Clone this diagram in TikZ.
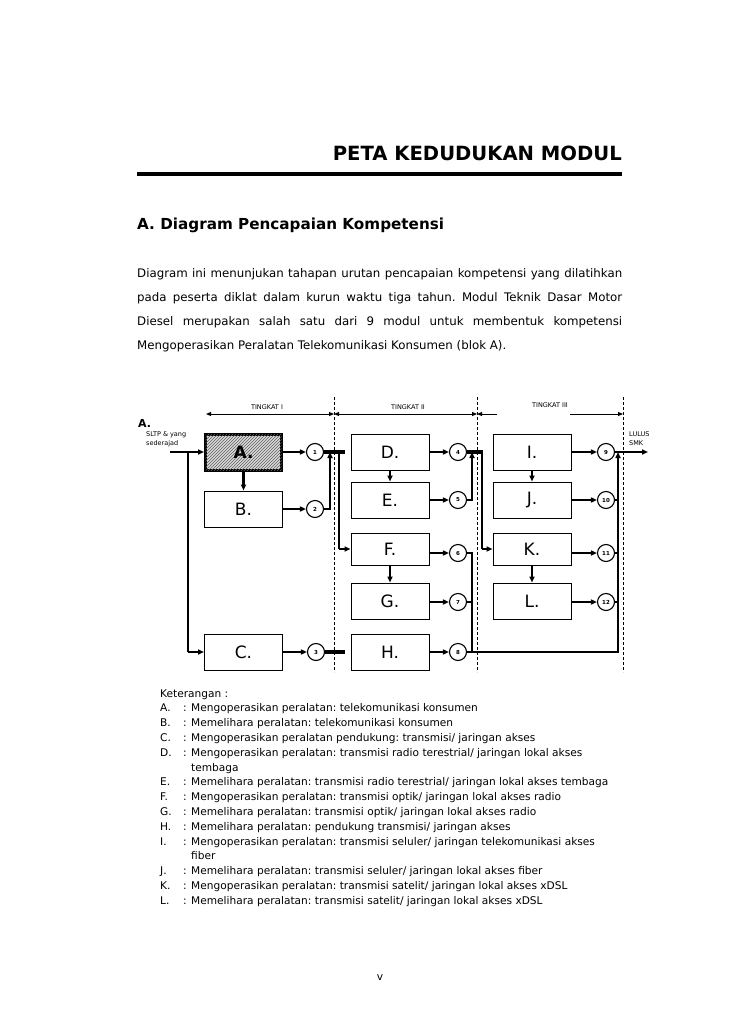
\documentclass[tikz,border=0pt]{standalone}
\usepackage{fontspec}
\setmainfont{DejaVu Sans}
\usetikzlibrary{arrows.meta,patterns}
\frenchspacing
\begin{document}
\begin{tikzpicture}[x=1pt,y=-1pt,
  box/.style={draw, line width=1pt, minimum width=78pt, minimum height=36pt, inner sep=0pt, font=\fontsize{17}{17}\selectfont},
  num/.style={draw, circle, line width=1.1pt, minimum size=17pt, inner sep=0pt, font=\fontsize{5.5}{5.5}\selectfont\bfseries},
  conn/.style={line width=2.4pt},
  arr/.style={line width=2.4pt, -{Triangle[length=6pt,width=5pt]}},
  bar/.style={line width=3.5pt},
  divider/.style={dash pattern=on 3pt off 2pt, line width=1pt},
  spantip/.style={line width=1pt, {Triangle[length=5pt,width=4pt]}-{Triangle[length=5pt,width=4pt]}},
  onetip/.style={line width=1pt, -{Triangle[length=5pt,width=4pt]}},
  small/.style={font=\fontsize{6.5}{8}\selectfont, inner sep=0pt},
  body/.style={font=\fontsize{11.8}{14}\selectfont, inner sep=0pt, anchor=base west},
]
\fill[white] (0,0) rectangle (728,1030);
\useasboundingbox (0,0) rectangle (728,1030);

% ---- header ----
\node[font=\fontsize{19.6}{20}\selectfont\bfseries, inner sep=0pt, anchor=base east] (title) at (622,160.5) {PETA KEDUDUKAN MODUL};
\draw[line width=4pt] (137,173.5) -- (622,173.5);
\node[font=\fontsize{15.2}{16}\selectfont\bfseries, inner sep=0pt, anchor=base west] (head) at (137,229) {A. Diagram Pencapaian Kompetensi};

\node[body] (p1) at (137,277) {\makebox[485pt][s]{Diagram ini menunjukan tahapan urutan pencapaian kompetensi yang dilatihkan}};
\node[body] (p2) at (137,301) {\makebox[485pt][s]{pada peserta diklat dalam kurun waktu tiga tahun. Modul Teknik Dasar Motor}};
\node[body] (p3) at (137,325) {\makebox[485pt][s]{Diesel merupakan salah satu dari 9 modul untuk membentuk kompetensi}};
\node[body] (p4) at (137,349) {Mengoperasikan Peralatan Telekomunikasi Konsumen (blok A).};

% ---- level dividers ----
\draw[divider] (334,397) -- (334,672);
\draw[divider] (477,397) -- (477,672);
\draw[divider] (623,397) -- (623,672);

\draw[spantip] (206,414) -- (334,414);
\draw[spantip] (334,414) -- (477,414);
\draw[onetip] (497,414) -- (477,414);
\draw[onetip] (570,414) -- (623,414);
\node[small] (t1) at (267,407) {TINGKAT I};
\node[small] (t2) at (408,407) {TINGKAT II};
\node[small] (t3) at (550,405) {TINGKAT III};

\node[font=\fontsize{11}{11}\selectfont\bfseries, inner sep=0pt, anchor=west] (lblA) at (138,423) {A.};
\node[small, anchor=west] (sltp) at (146,435) {SLTP \& yang};
\node[small, anchor=west] (sede) at (146,444) {sederajad};
\node[small, anchor=west] (lulus) at (629,434) {LULUS};
\node[small, anchor=west] (smk) at (629,443) {SMK};

% ---- boxes ----
\node[box, line width=3pt, minimum width=76pt, minimum height=36pt, fill=gray!30, postaction={pattern=north east lines, pattern color=gray!75!black}, font=\fontsize{17}{17}\selectfont\bfseries] (A) at (243.5,452) {A.};
\node[box] (B) at (243.5,509) {B.};
\node[box] (C) at (243.5,652) {C.};
\node[box] (D) at (390,452) {D.};
\node[box] (E) at (390,500) {E.};
\node[box, minimum height=32pt] (F) at (390,549) {F.};
\node[box] (G) at (390,601) {G.};
\node[box] (H) at (390,652) {H.};
\node[box] (I) at (532,452) {I.};
\node[box] (J) at (532,500) {J.};
\node[box, minimum height=32pt] (K) at (532,549) {K.};
\node[box] (L) at (532,601) {L.};

% ---- circles ----
\node[num] (c1) at (315,452) {1};
\node[num] (c2) at (315,509) {2};
\node[num] (c3) at (316,652) {3};
\node[num] (c4) at (458,452) {4};
\node[num] (c5) at (458,500) {5};
\node[num] (c6) at (458,553) {6};
\node[num] (c7) at (458,602) {7};
\node[num] (c8) at (458,652) {8};
\node[num] (c9) at (606,452) {9};
\node[num] (c10) at (606,500) {10};
\node[num] (c11) at (606,553) {11};
\node[num] (c12) at (606,602) {12};

% ---- junction coordinates ----
\coordinate (in) at (170,452);
\coordinate (split) at (188,452);
\coordinate (bar1) at (345,452);
\coordinate (drop1) at (339,452);
\coordinate (rise1) at (330,509);
\coordinate (bar3) at (345,652);
\coordinate (bar2) at (483,452);
\coordinate (drop2) at (482,452);
\coordinate (rise2) at (472,500);
\coordinate (col2) at (472,553);
\coordinate (col3) at (618,652);
\coordinate (out) at (648,452);

% ---- connectors tingkat I ----
\draw[arr] (in) -- (A);
\draw[conn] (split) -- (split |- C.west);
\draw[arr] (split |- C.west) -- (C);
\draw[arr] (A) -- (B);
\draw[arr] (A) -- (c1);
\draw[arr] (B.east |- c2) -- (c2);
\draw[arr] (C) -- (c3);
\draw[bar] (c1) -- (bar1);
\draw[arr] (c2) -- (rise1) -- (rise1 |- bar1);
\draw[bar] (c3) -- (bar3);
\draw[conn] (drop1) -- (drop1 |- F.west);
\draw[arr] (drop1 |- F.west) -- (F);

% ---- connectors tingkat II ----
\draw[arr] (D) -- (E);
\draw[arr] (F) -- (G);
\draw[arr] (D) -- (c4);
\draw[arr] (E) -- (c5);
\draw[arr] (F.east |- c6) -- (c6);
\draw[arr] (G.east |- c7) -- (c7);
\draw[arr] (H) -- (c8);
\draw[bar] (c4) -- (bar2);
\draw[arr] (c5) -- (rise2) -- (rise2 |- bar2);
\draw[conn] (c6) -- (col2) -- (col2 |- c8);
\draw[conn] (c7) -- (col2 |- c7);
\draw[conn] (drop2) -- (drop2 |- K.west);
\draw[arr] (drop2 |- K.west) -- (K);

% ---- connectors tingkat III ----
\draw[arr] (I) -- (J);
\draw[arr] (K) -- (L);
\draw[arr] (I) -- (c9);
\draw[arr] (J) -- (c10);
\draw[arr] (K.east |- c11) -- (c11);
\draw[arr] (L.east |- c12) -- (c12);
\draw[arr] (c8) -- (col3) -- (col3 |- c9);
\draw[conn] (c10) -- (col3 |- c10);
\draw[conn] (c11) -- (col3 |- c11);
\draw[conn] (c12) -- (col3 |- c12);
\draw[arr] (c9) -- (out);

% ---- legend ----
\node[font=\fontsize{10.6}{14.8}\selectfont, inner sep=0pt, anchor=base west] (leg) at (160,697) {%
\begin{tabular}[t]{@{}p{23pt}@{}p{8pt}@{}l@{}}
\multicolumn{3}{@{}l@{}}{Keterangan :}\\
A. & : & Mengoperasikan peralatan: telekomunikasi konsumen\\
B. & : & Memelihara peralatan: telekomunikasi konsumen\\
C. & : & Mengoperasikan peralatan pendukung: transmisi/ jaringan akses\\
D. & : & Mengoperasikan peralatan: transmisi radio terestrial/ jaringan lokal akses\\
   &   & tembaga\\
E. & : & Memelihara peralatan: transmisi radio terestrial/ jaringan lokal akses tembaga\\
F. & : & Mengoperasikan peralatan: transmisi optik/ jaringan lokal akses radio\\
G. & : & Memelihara peralatan: transmisi optik/ jaringan lokal akses radio\\
H. & : & Memelihara peralatan: pendukung transmisi/ jaringan akses\\
I. & : & Mengoperasikan peralatan: transmisi seluler/ jaringan telekomunikasi akses\\
   &   & fiber\\
J. & : & Memelihara peralatan: transmisi seluler/ jaringan lokal akses fiber\\
K. & : & Mengoperasikan peralatan: transmisi satelit/ jaringan lokal akses xDSL\\
L. & : & Memelihara peralatan: transmisi satelit/ jaringan lokal akses xDSL
\end{tabular}};

\node[font=\fontsize{10.6}{12}\selectfont, inner sep=0pt, anchor=base] (page) at (380,980) {v};
\end{tikzpicture}
\end{document}
